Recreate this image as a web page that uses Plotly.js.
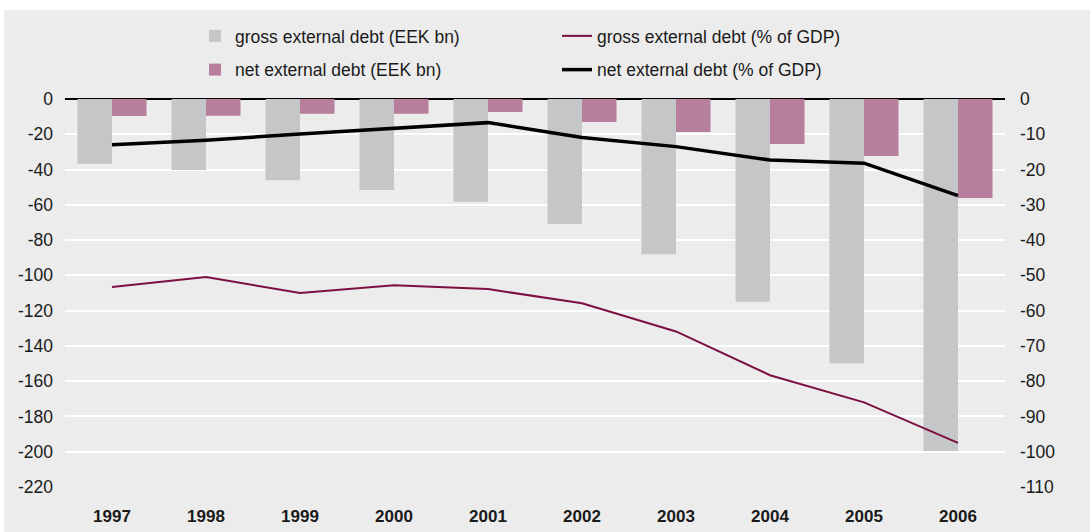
<!DOCTYPE html>
<html>
<head>
<meta charset="utf-8">
<script src="https://cdn.plot.ly/plotly-3.0.1.min.js"></script>
<style>
html,body{margin:0;padding:0;background:#ffffff;}
#chart{position:absolute;left:4px;top:10px;width:1086px;height:522px;}
</style>
</head>
<body>
<div id="chart"></div>
<script>
const years = ['1997','1998','1999','2000','2001','2002','2003','2004','2005','2006'];
const grossEEK = [-36.7, -40.3, -46.0, -51.6, -58.3, -70.9, -88.0, -115.0, -149.8, -199.6];
const netEEK = [-9.6, -9.5, -8.3, -8.3, -7.4, -13.0, -18.7, -25.5, -32.3, -56.2];
const grossGDP = [-53.3, -50.5, -55.0, -52.8, -53.9, -57.9, -65.9, -78.3, -86.0, -97.5];
const netGDP = [-13.0, -11.7, -9.9, -8.2, -6.7, -10.9, -13.5, -17.3, -18.2, -27.4];
const leftTicks = [0, -20, -40, -60, -80, -100, -120, -140, -160, -180, -200, -220];
const leftTickText = ['0','-20','-40','-60','-80','-100','-120','-140','-160','-180','-200','-220'];
const rightTicks = [0, -10, -20, -30, -40, -50, -60, -70, -80, -90, -100, -110];
const rightTickText = ['0','-10','-20','-30','-40','-50','-60','-70','-80','-90','-100','-110'];

const FONT = '"Liberation Sans", Arial, Helvetica, sans-serif';
const TXT = '#1a1a1a';

const traces = [
  {type:'bar', x:years, y:grossEEK, name:'gross external debt (EEK bn)',
   marker:{color:'#c5c6c8'}, legend:'legend', legendgroup:'a', hoverinfo:'skip'},
  {type:'bar', x:years, y:netEEK, name:'net external debt (EEK bn)',
   marker:{color:'#b87f9c'}, legend:'legend', legendgroup:'b', hoverinfo:'skip'},
  {type:'scatter', mode:'lines', x:years, y:grossGDP, yaxis:'y2',
   name:'gross external debt (% of GDP)', line:{color:'#7b1041', width:2},
   legend:'legend2', legendgroup:'c', hoverinfo:'skip'},
  {type:'scatter', mode:'lines', x:years, y:netGDP, yaxis:'y2',
   name:'net external debt (% of GDP)', line:{color:'#000000', width:3.5},
   legend:'legend2', legendgroup:'d', hoverinfo:'skip'}
];

const layout = {
  width:1086, height:522,
  paper_bgcolor:'#ececec', plot_bgcolor:'#ececec',
  margin:{l:61, r:85, t:89, b:45, pad:0, autoexpand:false},
  font:{family:FONT, color:TXT, size:17.5},
  barmode:'group', bargap:0.266, bargroupgap:0,
  showlegend:true,
  xaxis:{type:'category', showgrid:false, zeroline:false, showline:false, automargin:false,
         ticks:'', tickfont:{family:FONT, size:17, color:TXT, weight:'bold'},
         ticklabelstandoff:17},
  yaxis:{range:[-220,0], tickvals:leftTicks, ticktext:leftTickText, automargin:false,
         showgrid:true, gridcolor:'#ffffff', gridwidth:2,
         zeroline:true, zerolinecolor:'#000000', zerolinewidth:1.5,
         ticks:'', ticklabelstandoff:11, tickfont:{family:FONT, size:17.5, color:TXT}},
  yaxis2:{range:[-110,0], tickvals:rightTicks, ticktext:rightTickText, automargin:false,
          overlaying:'y', side:'right',
          showgrid:false, zeroline:false, ticks:'', ticklabelstandoff:14,
          tickfont:{family:FONT, size:17.5, color:TXT}},
  legend:{x:0.1383, y:1.2088, xanchor:'left', yanchor:'top',
          orientation:'v', bgcolor:'rgba(0,0,0,0)', tracegroupgap:8,
          font:{family:FONT, size:17.5, color:TXT}},
  legend2:{x:0.5234, y:1.2088, xanchor:'left', yanchor:'top',
          orientation:'v', bgcolor:'rgba(0,0,0,0)', tracegroupgap:8,
          font:{family:FONT, size:17.5, color:TXT}}
};

Plotly.newPlot('chart', traces, layout, {displayModeBar:false, staticPlot:true});
</script>
</body>
</html>
